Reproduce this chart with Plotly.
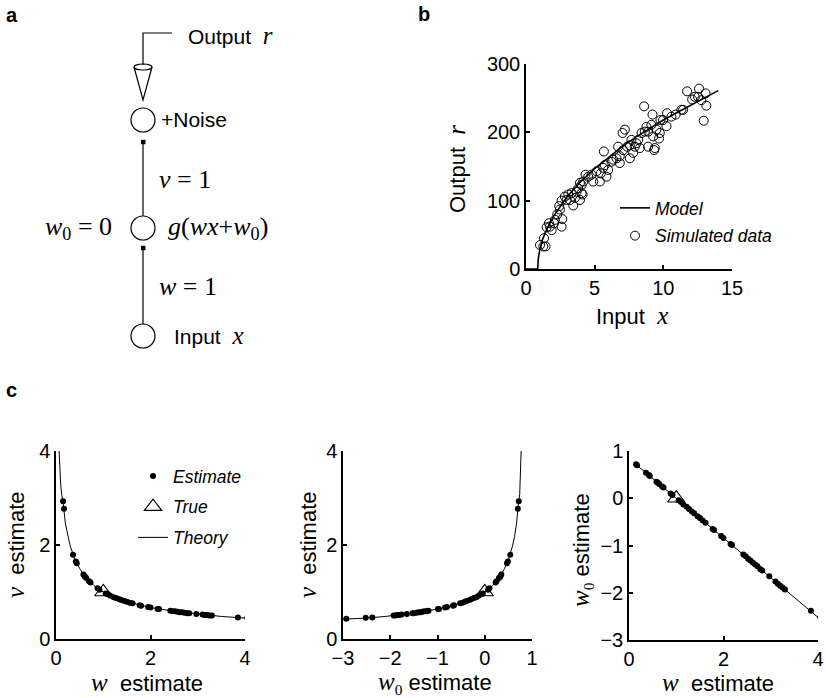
import plotly.graph_objects as go

W, H = 826, 698
SANS = "Liberation Sans, Arial, sans-serif"
SERIF = "Liberation Serif, Times New Roman, serif"

# ---------------- Panel b data ----------------
model_x = [0, 0.8, 0.85, 0.9, 1.0, 1.2, 1.5, 2, 3, 4, 5, 6, 7, 8, 9, 10, 11, 12, 13, 14]
model_r = [0, 0, 0, 16, 28, 43, 58, 77, 106, 128, 147, 163, 179, 193, 206, 218, 229, 240, 251, 261]

sim_x = [1.02, 1.43, 1.31, 1.50, 1.74, 1.87, 2.04, 2.28, 2.59, 2.64, 2.47, 2.59, 2.83, 3.08,
         3.20, 3.44, 3.56, 3.80, 3.93, 4.05, 3.93, 4.17, 4.33, 4.12, 4.77, 4.89, 5.38, 5.45,
         5.62, 5.67, 5.86, 5.98, 6.23, 6.59, 6.83, 6.83, 6.71, 7.03, 7.20, 7.37, 7.56, 7.68,
         7.80, 8.04, 8.29, 8.60, 8.65, 8.77, 8.89, 9.13, 9.21, 9.26, 9.33, 9.38, 9.50, 9.69,
         9.79, 10.23, 10.27, 10.90, 11.44, 11.73, 12.10, 12.60, 12.53, 12.94, 13.08, 13.13,
         12.77, 1.26, 1.67, 2.11, 2.42, 2.96, 3.32, 3.68, 4.05, 4.53, 5.14, 5.74, 6.35, 7.08,
         7.56, 7.92, 8.17, 8.41, 8.89, 9.74, 9.98, 10.59, 11.32, 12.29]
sim_r = [35, 33, 45, 61, 62, 57, 67, 80, 62, 73, 87, 100, 106, 109,
         101, 93, 104, 118, 101, 111, 126, 128, 138, 109, 138, 128, 128, 140,
         148, 172, 135, 145, 157, 162, 155, 165, 179, 199, 204, 179, 162, 189,
         170, 184, 177, 238, 201, 208, 179, 211, 226, 194, 174, 177, 204, 191,
         218, 209, 228, 226, 233, 260, 248, 264, 252, 217, 257, 239,
         247, 33, 67, 72, 92, 101, 111, 113, 123, 135, 143, 152, 160, 174,
         181, 179, 189, 199, 201, 199, 218, 223, 233, 252]

# ---------------- Panel c data ----------------
est_w = [0.15, 0.17, 0.36, 0.42, 0.44, 0.58, 0.61, 0.64, 0.70, 0.73, 0.88, 0.92, 1.05, 1.10,
         1.15, 1.22, 1.27, 1.33, 1.38, 1.45, 1.50, 1.56, 1.62, 1.77, 1.80, 1.95, 2.00, 2.15,
         2.18, 2.42, 2.47, 2.52, 2.57, 2.62, 2.67, 2.72, 2.78, 2.82, 2.97, 3.10, 3.15, 3.20,
         3.25, 3.30, 3.85, 4.05, 4.55]
est_v = [2.93, 2.77, 1.79, 1.65, 1.61, 1.37, 1.33, 1.30, 1.23, 1.20, 1.08, 1.05, 0.97, 0.95,
         0.92, 0.89, 0.87, 0.85, 0.83, 0.81, 0.79, 0.77, 0.76, 0.72, 0.71, 0.68, 0.67, 0.64,
         0.64, 0.60, 0.59, 0.59, 0.58, 0.57, 0.57, 0.56, 0.55, 0.55, 0.53, 0.52, 0.51, 0.51,
         0.50, 0.50, 0.46, 0.45, 0.43]
est_w0 = [0.72, 0.70, 0.54, 0.49, 0.47, 0.35, 0.33, 0.30, 0.25, 0.23, 0.10, 0.07, -0.04, -0.08,
          -0.13, -0.18, -0.23, -0.28, -0.32, -0.38, -0.42, -0.47, -0.52, -0.65, -0.67, -0.80, -0.84, -0.97,
          -0.99, -1.19, -1.23, -1.28, -1.32, -1.36, -1.40, -1.44, -1.50, -1.53, -1.65, -1.76, -1.81, -1.85,
          -1.89, -1.93, -2.38, -2.52, -2.93]
true_w = [1.0]
true_v = [1.0]
true_w0 = [0.0]
theory_w = [0.065, 0.08, 0.1, 0.12, 0.15, 0.2, 0.25, 0.3, 0.4, 0.5, 0.6, 0.8, 1.0, 1.25,
            1.5, 2.0, 2.5, 3.0, 3.5, 4.0, 4.6]
theory_v = [4.0, 3.62, 3.28, 3.08, 2.90, 2.45, 2.18, 1.98, 1.70, 1.50, 1.35, 1.14, 1.0, 0.88,
            0.79, 0.67, 0.59, 0.53, 0.48, 0.445, 0.42]
theory_w0 = [0.77, 0.76, 0.75, 0.74, 0.714, 0.672, 0.63, 0.588, 0.504, 0.42, 0.336, 0.168, 0.0, -0.21,
             -0.42, -0.84, -1.26, -1.68, -2.10, -2.52, -3.02]
line_w = [0.14, 4.0]
line_w0 = [0.72, -2.52]


def px(x):
    return x / W


def py(y):
    return 1 - y / H


fig = go.Figure()

# panel b
fig.add_trace(go.Scatter(x=model_x, y=model_r, mode="lines", name="<i>Model</i>",
                         line=dict(color="black", width=1.6), xaxis="x", yaxis="y",
                         legend="legend", legendgroup="m"))
fig.add_trace(go.Scatter(x=sim_x, y=sim_r, mode="markers", name="<i>Simulated data</i>",
                         marker=dict(symbol="circle-open", size=9, color="black",
                                     line=dict(width=1, color="black")),
                         xaxis="x", yaxis="y", legend="legend", legendgroup="s"))

# panel c1
fig.add_trace(go.Scatter(x=est_w, y=est_v, mode="markers", name="<i>Estimate</i>",
                         marker=dict(symbol="circle", size=6, color="black"),
                         xaxis="x2", yaxis="y2", legend="legend2", legendgroup="e"))
fig.add_trace(go.Scatter(x=true_w, y=true_v, mode="markers", name="<i>True</i>",
                         marker=dict(symbol="triangle-up-open", size=15, color="black",
                                     line=dict(width=1.2, color="black")),
                         xaxis="x2", yaxis="y2", legend="legend2", legendgroup="t"))
fig.add_trace(go.Scatter(x=theory_w, y=theory_v, mode="lines", name="<i>Theory</i>",
                         line=dict(color="black", width=1),
                         xaxis="x2", yaxis="y2", legend="legend2", legendgroup="th"))

# panel c2
fig.add_trace(go.Scatter(x=theory_w0, y=theory_v, mode="lines", showlegend=False,
                         line=dict(color="black", width=1), xaxis="x3", yaxis="y3"))
fig.add_trace(go.Scatter(x=est_w0, y=est_v, mode="markers", showlegend=False,
                         marker=dict(symbol="circle", size=6, color="black"),
                         xaxis="x3", yaxis="y3"))
fig.add_trace(go.Scatter(x=true_w0, y=true_v, mode="markers", showlegend=False,
                         marker=dict(symbol="triangle-up-open", size=15, color="black",
                                     line=dict(width=1.2, color="black")),
                         xaxis="x3", yaxis="y3"))

# panel c3
fig.add_trace(go.Scatter(x=line_w, y=line_w0, mode="lines", showlegend=False,
                         line=dict(color="black", width=1), xaxis="x4", yaxis="y4"))
fig.add_trace(go.Scatter(x=est_w, y=est_w0, mode="markers", showlegend=False,
                         marker=dict(symbol="circle", size=6, color="black"),
                         xaxis="x4", yaxis="y4"))
fig.add_trace(go.Scatter(x=true_w, y=true_w0, mode="markers", showlegend=False,
                         marker=dict(symbol="triangle-up-open", size=15, color="black",
                                     line=dict(width=1.2, color="black")),
                         xaxis="x4", yaxis="y4"))


def axis(domain, rng, tickvals, anchor):
    return dict(domain=domain, range=rng, tickvals=tickvals, anchor=anchor,
                showline=True, linecolor="black", linewidth=1.5, mirror=False,
                ticks="inside", ticklen=4, tickwidth=1.5, tickcolor="black",
                showgrid=False, zeroline=False, fixedrange=True, automargin=False,
                tickfont=dict(family=SANS, size=20, color="black"))


cy = [py(639), py(451)]
fig.update_layout(
    width=W, height=H, margin=dict(l=0, r=0, t=0, b=0, autoexpand=False),
    paper_bgcolor="white", plot_bgcolor="white",
    xaxis=axis([px(526), px(732)], [0, 15], [0, 5, 10, 15], "y"),
    yaxis=axis([py(269), py(64)], [0, 300], [0, 100, 200, 300], "x"),
    xaxis2=axis([px(56), px(245)], [0, 4], [0, 2, 4], "y2"),
    yaxis2=axis(cy, [0, 4], [0, 2, 4], "x2"),
    xaxis3=axis([px(343), px(532)], [-3, 1], [-3, -2, -1, 0, 1], "y3"),
    yaxis3=axis(cy, [0, 4], [0, 2, 4], "x3"),
    xaxis4=axis([px(629), px(818)], [0, 4], [0, 2, 4], "y4"),
    yaxis4=axis([py(640), py(451)], [-3, 1], [-3, -2, -1, 0, 1], "x4"),
    legend=dict(x=px(615), y=py(190), xanchor="left", yanchor="top", tracegroupgap=2,
                font=dict(family=SANS, size=17.5, color="black"), bgcolor="rgba(0,0,0,0)"),
    legend2=dict(x=px(133), y=py(458), xanchor="left", yanchor="top", tracegroupgap=5,
                 font=dict(family=SANS, size=17.5, color="black"), bgcolor="rgba(0,0,0,0)"),
)

# ---------------- Panel a diagram (shapes) ----------------
shapes = []
LC = "black"
for cyp in (120, 228, 336):
    shapes.append(dict(type="circle", xref="paper", yref="paper",
                       x0=px(131), x1=px(155), y0=py(cyp + 12), y1=py(cyp - 12),
                       line=dict(color=LC, width=1.2)))
for y0, y1 in ((140, 216), (246, 324)):
    shapes.append(dict(type="line", xref="paper", yref="paper",
                       x0=px(143), x1=px(143), y0=py(y0), y1=py(y1),
                       line=dict(color=LC, width=1.2)))
for sq in (142, 248):
    shapes.append(dict(type="rect", xref="paper", yref="paper",
                       x0=px(141), x1=px(145.5), y0=py(sq + 2.2), y1=py(sq - 2.2),
                       fillcolor=LC, line=dict(width=0)))
# bent output line
shapes.append(dict(type="path", xref="paper", yref="paper",
                   path=f"M {px(172)},{py(33)} L {px(143)},{py(33)} L {px(143)},{py(65)}",
                   line=dict(color=LC, width=1.2)))
# cone
shapes.append(dict(type="path", xref="paper", yref="paper",
                   path=f"M {px(134)},{py(67)} L {px(143)},{py(100)} L {px(152)},{py(67)}",
                   line=dict(color=LC, width=1.2)))
shapes.append(dict(type="circle", xref="paper", yref="paper",
                   x0=px(134), x1=px(152), y0=py(70), y1=py(64),
                   line=dict(color=LC, width=1.2)))
fig.update_layout(shapes=shapes)


def ital(s, size=None):
    sz = f";font-size:{size}px" if size else ""
    return f'<span style="font-family:{SERIF}{sz}"><i>{s}</i></span>'


ann = []


def add_text(text, x, y, size, xanchor="left", family=SANS, angle=0, bold=False):
    ann.append(dict(text=f"<b>{text}</b>" if bold else text, x=px(x), y=py(y),
                    xref="paper", yref="paper", xanchor=xanchor, yanchor="middle",
                    showarrow=False, textangle=angle,
                    font=dict(family=family, size=size, color="black")))


# panel labels
add_text("a", 4, 15, 20, bold=True)
add_text("b", 416, 14, 20, bold=True)
add_text("c", 4, 390, 20, bold=True)

# diagram text
add_text("Output\u00a0\u00a0" + ital("r", 25), 186, 35, 21)
add_text("+Noise", 159, 120, 21)
add_text("<i>v</i>\u00a0=\u00a01", 157, 180, 26, family=SERIF)
add_text("<i>w</i><sub>0</sub>\u00a0=\u00a00", 114, 228, 26, xanchor="right", family=SERIF)
add_text("<i>g</i>(<i>wx</i>+<i>w</i><sub>0</sub>)", 166, 228, 26, family=SERIF)
add_text("<i>w</i>\u00a0=\u00a01", 157, 287, 26, family=SERIF)
add_text("Input\u00a0\u00a0" + ital("x", 25), 172, 336, 21)

# axis titles
add_text("Output\u00a0\u00a0" + ital("r", 25), 457, 169, 22, xanchor="center", angle=-90)
add_text("Input\u00a0\u00a0" + ital("x", 25), 632, 315, 22, xanchor="center")
add_text(ital("v", 25) + "\u00a0\u00a0estimate", 15, 545, 22, xanchor="center", angle=-90)
add_text(ital("w", 25) + "\u00a0\u00a0estimate", 147, 682, 22, xanchor="center")
add_text(ital("v", 25) + "\u00a0\u00a0estimate", 307, 545, 22, xanchor="center", angle=-90)
add_text(ital("w", 25) + f'<span style="font-family:{SERIF}"><sub>0</sub></span>\u00a0estimate',
         435, 683, 22, xanchor="center")
add_text(ital("w", 25) + f'<span style="font-family:{SERIF}"><sub>0</sub></span>\u00a0estimate',
         582, 550, 22, xanchor="center", angle=-90)
add_text(ital("w", 25) + "\u00a0\u00a0estimate", 718, 682, 22, xanchor="center")

fig.update_layout(annotations=ann)
fig.write_html("out.html", config={"displayModeBar": False},
               post_script="document.body.style.margin='0';document.body.style.overflow='hidden';")
